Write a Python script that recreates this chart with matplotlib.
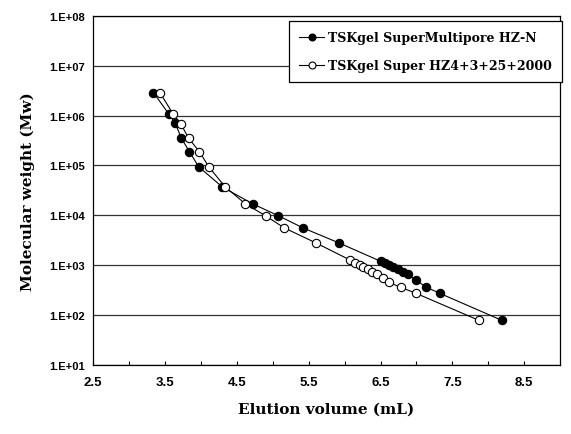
import math

import matplotlib
matplotlib.use("Agg")
import matplotlib.pyplot as plt
from matplotlib.ticker import FixedLocator, FuncFormatter

# TSKgel SuperMultipore HZ-N (filled)
vol_hzn = [3.34, 3.55, 3.64, 3.73, 3.84, 3.97, 4.30, 4.72, 5.08, 5.42, 5.92,
           6.50, 6.56, 6.62, 6.68, 6.75, 6.81, 6.88, 6.99, 7.14, 7.33, 8.19]
mw_hzn = [2.9e6, 1.1e6, 7.2e5, 3.5e5, 1.9e5, 9.4e4, 3.7e4, 1.7e4, 9.8e3, 5.6e3, 2.8e3,
          1.2e3, 1.12e3, 1.02e3, 9.1e2, 8.3e2, 7.2e2, 6.5e2, 5.0e2, 3.6e2, 2.7e2, 78]

# TSKgel Super HZ4+3+25+2000 (open)
vol_hz = [3.43, 3.61, 3.72, 3.83, 3.98, 4.11, 4.34, 4.62, 4.90, 5.16, 5.60,
          6.08, 6.15, 6.21, 6.26, 6.32, 6.38, 6.45, 6.53, 6.62, 6.78, 7.00, 7.87]
mw_hz = [2.9e6, 1.1e6, 6.9e5, 3.5e5, 1.9e5, 9.4e4, 3.7e4, 1.7e4, 9.8e3, 5.6e3, 2.8e3,
         1.26e3, 1.12e3, 1.02e3, 9.1e2, 8.3e2, 7.2e2, 6.5e2, 5.6e2, 4.5e2, 3.6e2, 2.7e2, 78]

label_hzn = "TSKgel SuperMultipore HZ-N"
label_hz = "TSKgel Super HZ4+3+25+2000"
yticks = [1e1, 1e2, 1e3, 1e4, 1e5, 1e6, 1e7, 1e8]
xlabels = [2.5, 3.5, 4.5, 5.5, 6.5, 7.5, 8.5]

serif = {"family": "DejaVu Serif", "weight": "bold"}

fig = plt.figure(figsize=(5.71, 4.35), dpi=100)
ax = fig.add_axes([0.163, 0.159, 0.818, 0.802])

ax.plot(vol_hzn, mw_hzn, "-o", color="black", lw=0.8, ms=6,
        mfc="black", mec="black", mew=0.8, label=label_hzn, zorder=3)
ax.plot(vol_hz, mw_hz, "-o", color="black", lw=0.8, ms=6,
        mfc="white", mec="black", mew=0.8, label=label_hz, zorder=3)

ax.set_yscale("log")
ax.set_ylim(1e1, 1e8)
ax.set_xlim(2.5, 9.0)
ax.yaxis.set_major_locator(FixedLocator(yticks))
ax.yaxis.set_minor_locator(FixedLocator([]))
ax.yaxis.set_major_formatter(FuncFormatter(lambda v, p: "1.E+%02d" % round(math.log10(v))))
ax.grid(axis="y", color="#333333", lw=0.9)
ax.set_axisbelow(True)

ax.xaxis.set_major_locator(FixedLocator(xlabels))
ax.xaxis.set_minor_locator(FixedLocator([3.0, 4.0, 5.0, 6.0, 7.0, 8.0]))
ax.xaxis.set_major_formatter(FuncFormatter(lambda v, p: "%.1f" % v))
ax.tick_params(axis="x", which="both", direction="in", length=3, width=0.8, pad=8)
ax.tick_params(axis="y", length=0, pad=6)
for t in ax.get_xticklabels():
    t.set_fontfamily("Liberation Sans")
    t.set_fontweight("bold")
    t.set_fontsize(9.5)
for t in ax.get_yticklabels():
    t.set_fontfamily("Liberation Sans")
    t.set_fontweight("bold")
    t.set_fontsize(8)

for s in ax.spines.values():
    s.set_color("black")
    s.set_linewidth(0.9)

ax.set_xlabel("Elution volume (mL)", fontsize=11, labelpad=10, **serif)
ax.set_ylabel("Molecular weight (Mw)", fontsize=11, labelpad=10, **serif)

leg = ax.legend(loc="upper right", bbox_to_anchor=(1.004, 0.985), fancybox=False,
                edgecolor="black", framealpha=1, borderpad=0.8, labelspacing=1.2,
                handlelength=2.0, handletextpad=0.3, borderaxespad=0,
                prop={"family": "DejaVu Serif", "weight": "bold", "size": 9})
leg.get_frame().set_linewidth(0.9)
for h in leg.legend_handles:
    h.set_markersize(5)

fig.savefig("out.png", dpi=100)
